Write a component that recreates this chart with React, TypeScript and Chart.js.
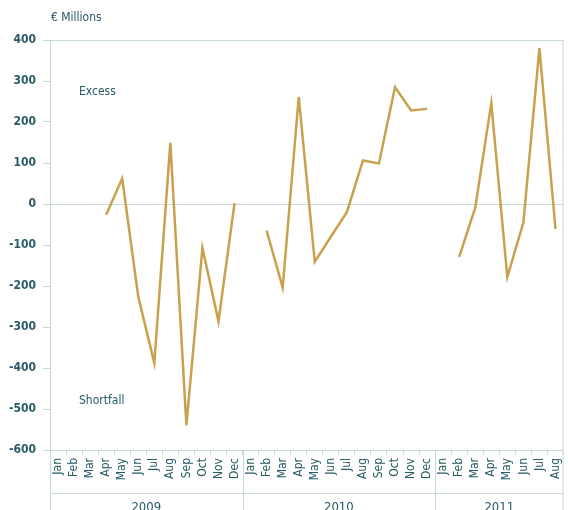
import React, { useEffect, useRef } from "react";
import { Chart, registerables } from "chart.js";

Chart.register(...registerables);

const months = ["Jan", "Feb", "Mar", "Apr", "May", "Jun", "Jul", "Aug", "Sep", "Oct", "Nov", "Dec"];
const categories = [...months, ...months, ...months.slice(0, 8)];
const years = ["2009", "2010", "2011"];
const yearStarts = [0, 12, 24];
const yearEnds = [12, 24, 32];

const values2009 = [null, null, null, -26, 62, -226, -388, 149, -540, -107, -286, 2];
const values2010 = [null, -65, -204, 261, -141, -80, -20, 106, 99, 285, 228, 232];
const values2011 = [null, -129, -9, 246, -178, -45, 380, -61];
const series = [...values2009, ...values2010, ...values2011];

const yTicks = [400, 300, 200, 100, 0, -100, -200, -300, -400, -500, -600];

const GOLD = "#c9a14d";
const TEAL = "#275a66";
const AXIS = "#c6d8dd";
const FONT = "'DejaVu Sans Condensed', 'Liberation Sans', sans-serif";

const overlay = {
  id: "overlay",
  afterDraw(chart: any) {
    const ctx = chart.ctx;
    const { left, right, top, bottom } = chart.chartArea;
    const xs = chart.scales.x;
    const H = chart.height;
    ctx.save();
    ctx.strokeStyle = AXIS;
    ctx.lineWidth = 1;
    ctx.beginPath();
    ctx.moveTo(right - 0.5, top);
    ctx.lineTo(right - 0.5, H);
    ctx.stroke();
    ctx.beginPath();
    ctx.moveTo(left + 0.5, bottom);
    ctx.lineTo(left + 0.5, H);
    ctx.stroke();
    const rowY = bottom + 43.5;
    ctx.beginPath();
    ctx.moveTo(left, rowY);
    ctx.lineTo(right, rowY);
    ctx.stroke();
    const half = (xs.getPixelForValue(1) - xs.getPixelForValue(0)) / 2;
    for (let i = 1; i < yearStarts.length; i++) {
      const px = Math.round(xs.getPixelForValue(yearStarts[i]) - half) + 0.5;
      ctx.beginPath();
      ctx.moveTo(px, bottom);
      ctx.lineTo(px, H);
      ctx.stroke();
    }
    ctx.fillStyle = TEAL;
    ctx.font = `13px ${FONT}`;
    ctx.textAlign = "center";
    ctx.textBaseline = "top";
    years.forEach((yr, i) => {
      const a = xs.getPixelForValue(yearStarts[i]) - half;
      const b = xs.getPixelForValue(yearEnds[i] - 1) + half;
      ctx.fillText(yr, (a + b) / 2, bottom + 51);
    });
    ctx.textAlign = "left";
    ctx.textBaseline = "middle";
    ctx.font = `12px ${FONT}`;
    ctx.fillText("Excess", left + 29, 92);
    ctx.fillText("Shortfall", left + 29, 401);
    ctx.fillText("€ Millions", left + 1, 18);
    ctx.restore();
  },
};

export default function App() {
  const ref = useRef<HTMLCanvasElement | null>(null);
  useEffect(() => {
    if (!ref.current) return;
    const chart = new Chart(ref.current, {
      type: "line",
      data: {
        labels: categories,
        datasets: [
          {
            data: series as any,
            borderColor: GOLD,
            borderWidth: 2.5,
            pointRadius: 0,
            tension: 0,
            spanGaps: false,
            fill: false,
          },
        ],
      },
      options: {
        responsive: false,
        animation: false,
        layout: { padding: { left: 0, right: 4.5, top: 40, bottom: 0 } },
        plugins: { legend: { display: false }, tooltip: { enabled: false } },
        scales: {
          x: {
            offset: true,
            grid: {
              offset: true,
              drawOnChartArea: false,
              color: AXIS,
              tickLength: 5,
            },
            border: { color: AXIS },
            ticks: {
              autoSkip: false,
              minRotation: 90,
              maxRotation: 90,
              padding: 3,
              color: TEAL,
              font: { family: FONT, size: 12 },
            },
            afterFit: (s: any) => {
              s.height = 60;
              s.paddingLeft = 0;
              s.paddingRight = 0;
            },
          },
          y: {
            min: -600,
            max: 400,
            afterBuildTicks: (s: any) => {
              s.ticks = yTicks.map((v) => ({ value: v }));
            },
            grid: {
              color: (c: any) => (c.tick && (c.tick.value === 0 || c.tick.value === 400) ? AXIS : "transparent"),
              tickColor: AXIS,
              tickLength: 7,
            },
            border: { color: AXIS },
            ticks: {
              padding: 7,
              color: TEAL,
              font: { family: FONT, size: 12, weight: "bold" },
            },
            afterFit: (s: any) => {
              s.width = 50;
              s.paddingTop = 0;
              s.paddingBottom = 0;
            },
          },
        },
      },
      plugins: [overlay],
    });
    return () => chart.destroy();
  }, []);
  return (
    <div style={{ position: "absolute", left: 0, top: 0, width: 568, height: 510 }}>
      <canvas ref={ref} width={568} height={510} style={{ width: 568, height: 510 }} />
    </div>
  );
}
